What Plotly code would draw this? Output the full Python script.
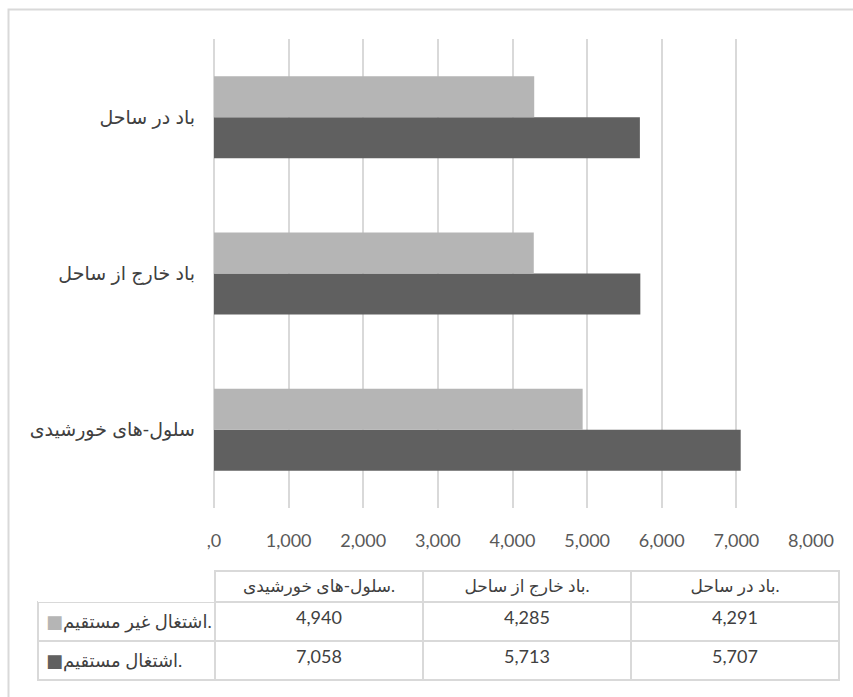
import plotly.graph_objects as go

W, H = 853, 697

categories = ["سلول-های خورشیدی", "باد خارج از ساحل", "باد در ساحل"]
header_labels = ["سلول-های خورشیدی.", "باد خارج از ساحل.", "باد در ساحل."]
indirect_name = "اشتغال غیر مستقیم."
direct_name = "اشتغال مستقیم."
indirect = [4940, 4285, 4291]
direct = [7058, 5713, 5707]
tick_vals = [0, 1000, 2000, 3000, 4000, 5000, 6000, 7000, 8000]
tick_text = [",0", "1,000", "2,000", "3,000", "4,000", "5,000", "6,000", "7,000", "8,000"]

LIGHT = "#b5b5b5"
DARK = "#606060"
GRID = "#d9d9d9"
TXT = "#404040"

fig = go.Figure()
fig.add_trace(go.Bar(y=categories, x=direct, orientation="h", marker=dict(color=DARK, line=dict(width=0)),
                     name=direct_name, showlegend=False, hoverinfo="x"))
fig.add_trace(go.Bar(y=categories, x=indirect, orientation="h", marker=dict(color=LIGHT, line=dict(width=0)),
                     name=indirect_name, showlegend=False, hoverinfo="x"))

def fmt(v):
    return f"{v:,}"

# trailing <br> disables plotly's automatic word wrapping so the span tag stays intact
legend_col = [
    f"<span style=\"color:{LIGHT}\">■</span>{indirect_name}<br>",
    f"<span style=\"color:{DARK}\">■</span>{direct_name}<br>",
]
cols = [legend_col] + [[fmt(indirect[i]), fmt(direct[i])] for i in range(len(categories))]

fig.add_trace(go.Table(
    domain=dict(x=[38 / W, 839 / W], y=[0, 1 - 571 / H]),
    columnwidth=[177, 208, 208, 208],
    header=dict(
        values=[""] + header_labels,
        height=31,
        align="center",
        fill=dict(color="white"),
        line=dict(color=["rgba(0,0,0,0)", GRID, GRID, GRID], width=2),
        font=dict(family="Lato, DejaVu Sans, sans-serif", size=17, color=TXT),
    ),
    cells=dict(
        values=cols,
        height=30,
        align=["left", "center", "center", "center"],
        fill=dict(color="white"),
        line=dict(color=GRID, width=2),
        font=dict(family="Lato, DejaVu Sans, sans-serif", size=18, color=TXT),
    ),
))

fig.update_layout(
    width=W, height=H,
    margin=dict(l=0, r=0, t=0, b=0),
    paper_bgcolor="white", plot_bgcolor="white",
    barmode="group", bargap=0.475, bargroupgap=0,
    showlegend=False,
    xaxis=dict(
        domain=[214 / W, 811 / W], range=[0, 8000],
        tickvals=tick_vals, ticktext=tick_text,
        showgrid=True, gridcolor=GRID, gridwidth=1.5,
        zeroline=True, zerolinecolor=GRID, zerolinewidth=1.5,
        showline=False, ticks="", ticklabelstandoff=20,
        tickfont=dict(family="Lato, sans-serif", size=18, color="#595959"),
        automargin=False, fixedrange=True,
    ),
    yaxis=dict(
        domain=[1 - 508 / H, 1 - 39 / H],
        categoryorder="array", categoryarray=categories,
        showgrid=False, zeroline=False, showline=False, ticks="",
        ticklabelstandoff=18,
        tickfont=dict(family="Liberation Sans, Arial, DejaVu Sans, sans-serif", size=19, color="#404040"),
        automargin=False, fixedrange=True,
    ),
    shapes=[dict(type="rect", xref="paper", yref="paper",
                 x0=8.5 / W, x1=1.05, y0=-0.05, y1=1 - 9.5 / H,
                 line=dict(color=GRID, width=2), fillcolor="rgba(0,0,0,0)", layer="below")],
)

fig.write_html("out.html", config={"displayModeBar": False},
               post_script="document.body.style.margin='0';document.body.style.overflow='hidden';")
